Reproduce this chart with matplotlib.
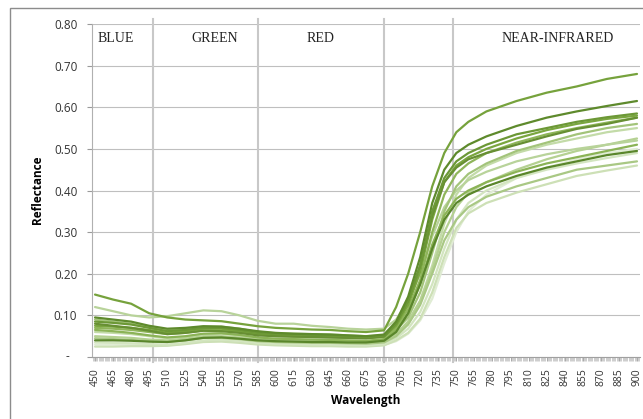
import numpy as np
import matplotlib
matplotlib.use("Agg")
import matplotlib.pyplot as plt
from matplotlib.patches import Rectangle
from matplotlib.ticker import MultipleLocator, FixedLocator

plt.rcParams['font.family'] = ['Open Sans', 'DejaVu Sans']

wavelength = [450, 465, 480, 495, 510, 525, 540, 555, 570, 585, 600, 615, 630, 645, 660, 675, 690,
              700, 710, 720, 730, 740, 750, 760, 775, 800, 825, 850, 875, 900]

# reflectance of each leaf sample
s01 = [0.150, 0.138, 0.128, 0.105, 0.095, 0.090, 0.088, 0.086, 0.080, 0.074, 0.070, 0.068, 0.066, 0.065, 0.062, 0.060, 0.064,
       0.120, 0.200, 0.300, 0.410, 0.490, 0.540, 0.565, 0.590, 0.615, 0.635, 0.650, 0.668, 0.680]
s02 = [0.120, 0.110, 0.100, 0.095, 0.098, 0.105, 0.112, 0.110, 0.100, 0.087, 0.080, 0.080, 0.075, 0.072, 0.068, 0.066, 0.068,
       0.090, 0.135, 0.200, 0.290, 0.360, 0.400, 0.425, 0.445, 0.470, 0.487, 0.500, 0.510, 0.520]
s03 = [0.095, 0.090, 0.085, 0.075, 0.068, 0.070, 0.074, 0.073, 0.068, 0.062, 0.058, 0.056, 0.055, 0.054, 0.052, 0.050, 0.054,
       0.085, 0.145, 0.240, 0.370, 0.450, 0.490, 0.510, 0.530, 0.555, 0.575, 0.590, 0.603, 0.615]
s04 = [0.085, 0.082, 0.078, 0.070, 0.062, 0.065, 0.070, 0.070, 0.065, 0.058, 0.055, 0.054, 0.053, 0.052, 0.050, 0.048, 0.052,
       0.080, 0.135, 0.220, 0.350, 0.430, 0.470, 0.490, 0.510, 0.535, 0.550, 0.565, 0.576, 0.585]
s05 = [0.075, 0.073, 0.070, 0.065, 0.058, 0.062, 0.068, 0.068, 0.062, 0.055, 0.052, 0.050, 0.050, 0.049, 0.047, 0.046, 0.050,
       0.075, 0.125, 0.205, 0.330, 0.420, 0.460, 0.480, 0.500, 0.525, 0.545, 0.560, 0.572, 0.580]
s06 = [0.070, 0.068, 0.065, 0.060, 0.055, 0.058, 0.064, 0.064, 0.060, 0.054, 0.050, 0.049, 0.048, 0.047, 0.046, 0.045, 0.048,
       0.070, 0.115, 0.185, 0.300, 0.390, 0.440, 0.465, 0.490, 0.515, 0.535, 0.550, 0.563, 0.575]
s07 = [0.090, 0.085, 0.080, 0.072, 0.065, 0.068, 0.073, 0.073, 0.068, 0.060, 0.057, 0.056, 0.055, 0.054, 0.052, 0.050, 0.052,
       0.065, 0.095, 0.155, 0.250, 0.350, 0.410, 0.440, 0.465, 0.495, 0.515, 0.535, 0.550, 0.560]
s08 = [0.060, 0.058, 0.055, 0.050, 0.045, 0.048, 0.055, 0.056, 0.052, 0.046, 0.043, 0.042, 0.041, 0.040, 0.039, 0.038, 0.041,
       0.055, 0.085, 0.135, 0.220, 0.320, 0.390, 0.430, 0.460, 0.490, 0.510, 0.525, 0.540, 0.550]
s09 = [0.050, 0.048, 0.046, 0.042, 0.040, 0.044, 0.050, 0.050, 0.047, 0.042, 0.040, 0.039, 0.038, 0.038, 0.037, 0.036, 0.039,
       0.055, 0.085, 0.135, 0.210, 0.300, 0.360, 0.395, 0.420, 0.450, 0.475, 0.495, 0.510, 0.525]
s10 = [0.065, 0.062, 0.058, 0.052, 0.047, 0.050, 0.056, 0.057, 0.053, 0.047, 0.044, 0.043, 0.042, 0.041, 0.040, 0.039, 0.043,
       0.065, 0.105, 0.175, 0.270, 0.340, 0.380, 0.400, 0.420, 0.445, 0.465, 0.480, 0.495, 0.510]
s11 = [0.040, 0.040, 0.039, 0.037, 0.036, 0.040, 0.046, 0.047, 0.044, 0.040, 0.038, 0.037, 0.036, 0.036, 0.035, 0.035, 0.039,
       0.060, 0.105, 0.175, 0.260, 0.330, 0.370, 0.390, 0.410, 0.435, 0.455, 0.470, 0.485, 0.495]
s12 = [0.035, 0.034, 0.033, 0.031, 0.030, 0.034, 0.040, 0.042, 0.039, 0.034, 0.032, 0.031, 0.030, 0.030, 0.029, 0.028, 0.031,
       0.045, 0.068, 0.108, 0.175, 0.260, 0.330, 0.370, 0.400, 0.430, 0.450, 0.465, 0.478, 0.490]
s13 = [0.045, 0.043, 0.041, 0.038, 0.036, 0.040, 0.046, 0.046, 0.043, 0.038, 0.036, 0.035, 0.034, 0.034, 0.033, 0.032, 0.035,
       0.050, 0.078, 0.125, 0.200, 0.280, 0.330, 0.360, 0.385, 0.410, 0.430, 0.450, 0.460, 0.470]
s14 = [0.025, 0.025, 0.026, 0.026, 0.027, 0.031, 0.036, 0.037, 0.034, 0.030, 0.028, 0.027, 0.026, 0.026, 0.025, 0.025, 0.028,
       0.040, 0.058, 0.092, 0.155, 0.240, 0.310, 0.345, 0.370, 0.395, 0.415, 0.435, 0.448, 0.460]
s15 = [0.080, 0.075, 0.070, 0.063, 0.055, 0.058, 0.063, 0.062, 0.058, 0.052, 0.050, 0.049, 0.048, 0.047, 0.046, 0.045, 0.049,
       0.080, 0.135, 0.220, 0.340, 0.420, 0.455, 0.475, 0.490, 0.510, 0.530, 0.548, 0.560, 0.575]
s16 = [0.030, 0.030, 0.029, 0.028, 0.028, 0.032, 0.038, 0.040, 0.037, 0.032, 0.030, 0.029, 0.028, 0.028, 0.027, 0.027, 0.029,
       0.038, 0.056, 0.088, 0.140, 0.225, 0.300, 0.350, 0.390, 0.430, 0.455, 0.475, 0.490, 0.500]

samples = [s16, s14, s12, s08, s09, s13, s02, s07, s10, s06, s11, s05, s15, s04, s03, s01]
colors = ['#e0ecd4', '#cde0b6', '#d3e5c0', '#c3dba8', '#b5d192', '#a9c884', '#b8d39a', '#a3c47a',
          '#8bb356', '#8fb55a', '#5a862b', '#7aa63f', '#678f33', '#6c9836', '#5e8a2c', '#76a23c']

band_edges = [498, 585, 690, 747]
band_names = ['BLUE', 'GREEN', 'RED', 'NEAR-INFRARED']
band_label_x = [452, 549, 637, 834]

W, H = 643, 419
fig = plt.figure(figsize=(W / 100, H / 100), dpi=100)
ax = fig.add_axes([92 / W, 1 - 357 / H, (640 - 92) / W, (357 - 24) / H])

# chart border like the spreadsheet frame
fig.patches.append(Rectangle((10 / W, -0.1), 1.2, 1 - 8 / H + 0.1, transform=fig.transFigure,
                             fill=False, edgecolor='#8c8c8c', lw=1.0))

for y, c in zip(samples, colors):
    ax.plot(wavelength, y, color=c, lw=1.6, solid_capstyle='round', solid_joinstyle='round', zorder=3)

for x in band_edges:
    ax.plot([x, x], [-0.012, 0.812], color='#c8c8c8', lw=1.5, clip_on=False, zorder=2)

for name, x in zip(band_names, band_label_x):
    ha = 'left' if name == 'BLUE' else 'center'
    ax.text(x, 0.765, name, ha=ha, va='center', family='Liberation Serif', fontsize=10, color='#222222')

ax.set_xlim(447.5, 902.5)
ax.set_ylim(0, 0.80)

ax.xaxis.set_major_locator(FixedLocator(np.arange(450, 901, 15)))
ax.xaxis.set_minor_locator(MultipleLocator(1))
ax.set_yticks(np.arange(0, 0.81, 0.1))
ax.set_yticklabels(['' if v < 0.01 else f'{v:.2f}' for v in np.arange(0, 0.81, 0.1)])
ax.text(-0.045, 0, '-', transform=ax.get_yaxis_transform(), ha='center', va='center', fontsize=8.5, color='#333333')
plt.setp(ax.get_xticklabels(), rotation=90)

ax.grid(axis='y', color='#bfbfbf', lw=0.8, zorder=1)
ax.set_axisbelow(True)
ax.tick_params(axis='y', which='major', length=3.6, width=0.8, color='#9a9a9a', pad=7, labelsize=8.5, labelcolor='#333333')
ax.tick_params(axis='x', which='major', length=3, width=0.6, color='#9a9a9a', pad=5, labelsize=7.5, labelcolor='#333333')
ax.tick_params(axis='x', which='minor', length=3, width=0.4, color='#a8a8a8')

for side in ['top', 'right']:
    ax.spines[side].set_visible(False)
ax.spines['left'].set_color('#b0b0b0')
ax.spines['bottom'].set_color('#a0a0a0')
ax.spines['left'].set_linewidth(0.8)
ax.spines['bottom'].set_linewidth(0.8)

fig.text(37 / W, 1 - 190 / H, 'Reflectance', rotation=90, ha='center', va='center', fontsize=8.5, fontweight='bold')
fig.text(366 / W, 1 - 400 / H, 'Wavelength', ha='center', va='center', fontsize=8.5, fontweight='bold')

fig.savefig('out.png', dpi=100)
